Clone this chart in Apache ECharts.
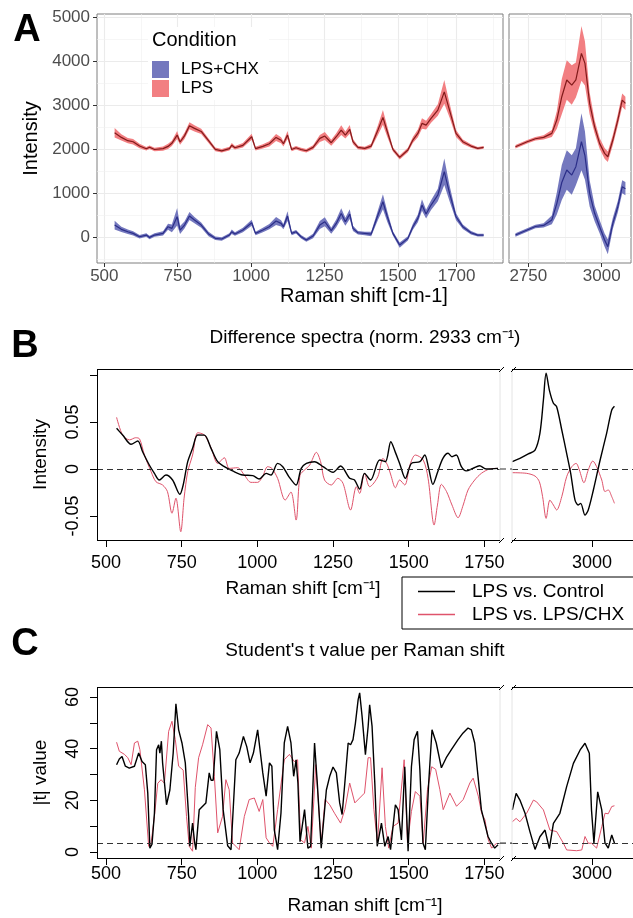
<!DOCTYPE html>
<html>
<head>
<meta charset="utf-8">
<script src="https://cdn.jsdelivr.net/npm/echarts@6/dist/echarts.min.js"></script>
<style>
html, body { margin: 0; padding: 0; background: #fff; }
#chart { width: 633px; height: 918px; }
</style>
</head>
<body>
<div id="chart"></div>
<script>
// ---- Panel A: mean spectra +/- sd, fingerprint range ----
var shiftA = [535, 558, 580, 598, 620, 643, 654, 671, 700, 717,
    730, 748, 758, 773, 790, 807, 830, 855, 878, 900,
    926, 934, 945, 972, 1002, 1015, 1040, 1062, 1085, 1102,
    1110, 1124, 1138, 1153, 1170, 1188, 1211, 1234, 1251, 1273,
    1290, 1307, 1321, 1336, 1347, 1364, 1387, 1409, 1432, 1449,
    1464, 1483, 1506, 1534, 1551, 1568, 1582, 1596, 1613, 1636,
    1658, 1676, 1698, 1721, 1749, 1772, 1792];
var lpsMean = [2370, 2265, 2190, 2166, 2068, 2007, 2040, 1990, 2010, 2060,
    2130, 2318, 2160, 2300, 2530, 2470, 2400, 2190, 1993, 1960,
    2010, 2085, 2030, 2085, 2280, 2010, 2060, 2120, 2265, 2200,
    2120, 2318, 1990, 2030, 1990, 1962, 2038, 2242, 2295, 2144,
    2280, 2432, 2318, 2447, 2167, 2038, 2015, 2068, 2432, 2720,
    2394, 1992, 1810, 1977, 2205, 2356, 2583, 2545, 2697, 2886,
    3300, 2880, 2356, 2167, 2068, 2015, 2038];
var lpsSd = [110, 70, 60, 60, 50, 40, 40, 40, 50, 60,
    60, 90, 60, 70, 80, 70, 60, 50, 40, 40,
    40, 50, 40, 50, 70, 40, 50, 60, 80, 70,
    60, 90, 40, 40, 40, 40, 50, 80, 90, 70,
    80, 110, 80, 100, 60, 40, 40, 50, 110, 170,
    120, 50, 50, 50, 70, 90, 120, 100, 100, 130,
    270, 160, 80, 50, 40, 30, 30];
var chxMean = [272, 175, 121, 83, 7, 45, -8, 45, 83, 235,
    197, 462, 159, 272, 477, 386, 272, 70, -30, -45,
    45, 121, 68, 159, 325, 83, 159, 235, 363, 310,
    235, 477, 83, 121, 7, -68, 23, 272, 348, 144,
    310, 537, 348, 522, 197, 98, 83, 68, 500, 803,
    462, 83, -182, -30, 235, 424, 727, 522, 727, 955,
    1485, 992, 462, 235, 98, 45, 45];
var chxSd = [100, 60, 50, 50, 40, 40, 40, 40, 50, 70,
    90, 200, 90, 80, 90, 70, 60, 50, 40, 40,
    40, 50, 40, 50, 70, 40, 50, 60, 90, 70,
    60, 110, 40, 40, 40, 40, 50, 90, 100, 70,
    90, 120, 90, 110, 60, 40, 40, 50, 110, 170,
    120, 50, 60, 50, 70, 90, 130, 100, 110, 140,
    300, 180, 80, 50, 40, 30, 30];

// ---- Panel A: high wavenumber range ----
var shiftA2 = [2706, 2746, 2774, 2802, 2830, 2847, 2864, 2881, 2898, 2912, 2931, 2943, 2959, 2976, 2993, 3010, 3021, 3038, 3055, 3070, 3081];
var lpsMean2 = [2053, 2166, 2235, 2265, 2356, 2660, 3190, 3570, 3455, 3570, 4175, 3947, 3038, 2507, 2129, 1902, 1825, 2205, 2660, 3114, 3038];
var lpsSd2 = [40, 40, 40, 50, 80, 200, 400, 450, 450, 400, 620, 500, 250, 150, 120, 120, 120, 120, 130, 150, 150];
var chxMean2 = [45, 159, 240, 265, 390, 760, 1240, 1523, 1409, 1598, 2166, 1850, 993, 539, 235, -68, -220, 311, 689, 1143, 1100];
var chxSd2 = [40, 40, 40, 50, 100, 250, 400, 450, 450, 420, 650, 550, 300, 180, 150, 150, 170, 130, 130, 150, 150];

// ---- Panel B: difference spectra ----
var ctrlShiftB = [535, 555, 583, 605, 621, 643, 660, 676, 698, 720, 744, 755, 770, 786, 803, 825, 847, 869, 891, 918,
    952, 985, 1006, 1029, 1045, 1067, 1084, 1104, 1128, 1145, 1162, 1189, 1217, 1250, 1275, 1305, 1321, 1338, 1354, 1374,
    1404, 1423, 1441, 1456, 1470, 1489, 1509, 1537, 1553, 1566, 1580, 1596, 1613, 1630, 1643, 1657, 1674, 1690, 1712, 1734,
    1756, 1795];
var ctrlDiffB = [0.0433, 0.0362, 0.0263, 0.0298, 0.0184, 0.0043, -0.0046, -0.0117, -0.0064, -0.0117,
    -0.0269, -0.017, 0.0078, 0.022, 0.0362, 0.036, 0.022, 0.0078, 0.0025, -0.002,
    -0.0064, -0.007, -0.0106, -0.0046, -0.0064, 0.006, 0.0025, -0.008, -0.017, 0.0007,
    0.006, 0.0078, 0.0025, -0.0035, 0.0032, -0.0099, -0.0117, -0.0213, -0.0046, -0.0117,
    0.0096, 0.0078, 0.029, 0.0177, 0.006, -0.0099, 0.006, 0.0078, 0.0149, 0.0007,
    -0.0163, -0.0028, 0.0113, 0.0167, 0.0131, 0.0149, 0.0025, -0.002, 0.0007, 0.0035,
    0, 0.0007];
var chxShiftB = [535, 555, 578, 598, 611, 627, 649, 665, 687, 703, 718, 731, 747, 758, 770, 786, 803, 825, 847, 869,
    891, 907, 935, 957, 979, 1001, 1017, 1034, 1048, 1067, 1092, 1111, 1128, 1141, 1156, 1173, 1195, 1209, 1222, 1244,
    1266, 1283, 1308, 1327, 1338, 1354, 1371, 1398, 1415, 1430, 1441, 1456, 1470, 1487, 1504, 1522, 1548, 1564, 1584, 1595,
    1608, 1625, 1643, 1663, 1680, 1696, 1718, 1740, 1767, 1795];
var chxDiffB = [0.055, 0.036, 0.031, 0.0333, 0.032, 0.0149, -0.0028, -0.0135, -0.017, -0.024,
    -0.047, -0.031, -0.0667, -0.031, -0.0028, 0.0149, 0.0386, 0.0362, 0.0227, 0.006,
    0.012, 0.0007, 0.0014, -0.0064, -0.0142, -0.0142, -0.0082, 0.0025, 0.0007, -0.01,
    -0.033, -0.0245, -0.0543, -0.0064, -0.001, 0.0042, 0.0177, 0.0078, -0.0117, -0.017,
    -0.0099, -0.0152, -0.0436, -0.0188, -0.026, -0.0046, -0.0188, -0.0082, 0.0113, 0.0042,
    -0.0064, -0.0199, -0.0117, -0.017, 0.0042, 0.0149, 0.0096, -0.0099, -0.0596, -0.0383,
    -0.0163, -0.024, -0.0383, -0.0518, -0.0383, -0.0223, -0.0117, -0.0046, 0, 0.0007];
var ctrlShiftB2 = [2705, 2733, 2764, 2789, 2807, 2820, 2830, 2842, 2857, 2869, 2888, 2906, 2921, 2937, 2949, 2958, 2974, 2986, 3005, 3030, 3054, 3073, 3083];
var ctrlDiffB2 = [0.0078, 0.0113, 0.016, 0.0202, 0.038, 0.0734, 0.1018, 0.084, 0.0699, 0.0663, 0.0415, 0.0167, -0.0046, -0.033, -0.0383, -0.0365, -0.049, -0.0436, -0.0223, 0.0096, 0.038, 0.0628, 0.0667];
var chxShiftB2 = [2705, 2758, 2789, 2805, 2817, 2830, 2844, 2857, 2869, 2888, 2906, 2925, 2941, 2953, 2970, 2986, 3003, 3017, 3036, 3048, 3060, 3073, 3083];
var chxDiffB2 = [-0.0039, -0.0046, -0.0075, -0.0135, -0.0294, -0.0525, -0.033, -0.0383, -0.0436, -0.0294, -0.0082, 0.0025, 0.006, -0.001, -0.0146, -0.001, 0.0085, 0.0025, -0.0117, -0.024, -0.0223, -0.0294, -0.0365];

// ---- Panel C: |t| values ----
var ctrlShiftC = [535, 544, 553, 564, 577, 594, 608, 619, 630, 638, 645, 652, 660, 667, 674, 678, 683, 687, 700, 711,
    722, 731, 740, 751, 762, 773, 777, 786, 793, 797, 808, 830, 841, 847, 854, 865, 876, 887, 902, 913,
    929, 940, 954, 965, 976, 987, 1001, 1018, 1029, 1040, 1048, 1056, 1067, 1078, 1089, 1100, 1111, 1120, 1128, 1134,
    1141, 1156, 1167, 1176, 1189, 1198, 1211, 1228, 1239, 1250, 1261, 1272, 1280, 1289, 1300, 1308, 1316, 1324, 1333, 1338,
    1346, 1357, 1366, 1371, 1379, 1388, 1396, 1410, 1421, 1432, 1440, 1456, 1465, 1476, 1487, 1498, 1509, 1518, 1529, 1537,
    1547, 1555, 1566, 1577, 1591, 1608, 1624, 1641, 1663, 1679, 1696, 1707, 1718, 1729, 1740, 1751, 1762, 1773, 1784, 1795];
var ctrlTC = [33.8, 36, 37, 33.2, 32.5, 33.2, 38.3, 35, 33.8, 22.8, 1.5, 3, 15, 39.6, 41.5, 38.3, 42.9, 34.5, 18.3, 24,
    38.3, 57.4, 47.3, 42.2, 34.5, 13.8, 2.2, 11.2, 3.5, 0.9, 16.4, 19, 30.6, 27.8, 27.8, 46.7, 39.6, 16.4, 2.4, 0.9,
    35.7, 38.3, 44.7, 40.8, 34.5, 38.3, 47.3, 30.6, 21.6, 34.5, 33.2, 8.6, 0.9, 15, 42.2, 48.6, 42.2, 29.3, 35.7, 26.7,
    4, 16.4, 1.5, 2.2, 42.2, 26.7, 1.5, 24, 29.3, 32.9, 30.6, 19, 14.5, 26.7, 42.2, 41.5, 43.5, 49.9, 59, 61.6,
    52.5, 37.7, 48.6, 57, 48.6, 26.7, 2.2, 11.2, 2.2, 6, 0.9, 18.3, 16.4, 4.7, 33, 0.3, 33, 43.5, 46.7, 31.7,
    3.5, 0.9, 26.7, 47.3, 42.2, 32.6, 36.5, 39.6, 43.5, 46, 48, 47.3, 42.2, 29.3, 16.4, 11.2, 6, 3.5, 1.5, 2.8];
var chxShiftC = [535, 544, 561, 572, 583, 594, 605, 612, 627, 641, 649, 660, 671, 682, 693, 707, 718, 729, 740, 755,
    766, 775, 786, 795, 806, 819, 836, 847, 858, 869, 885, 896, 907, 918, 929, 940, 957, 973, 990, 1006,
    1018, 1029, 1040, 1051, 1067, 1089, 1106, 1122, 1133, 1143, 1156, 1167, 1178, 1193, 1211, 1224, 1239, 1255, 1275, 1289,
    1305, 1322, 1338, 1354, 1366, 1374, 1385, 1397, 1412, 1423, 1434, 1448, 1465, 1485, 1496, 1509, 1522, 1537, 1548, 1562,
    1576, 1589, 1603, 1614, 1636, 1658, 1680, 1702, 1713, 1730, 1741, 1752, 1763, 1774, 1791];
var chxTC = [42.5, 39, 37.8, 36.5, 33.8, 42.2, 42.9, 39.6, 24.1, 2.2, 3.5, 13.8, 26.6, 28, 26.6, 46.7, 50.6, 43.5, 33.2, 31.7,
    13.8, 2.2, 0.3, 25, 36.5, 41.5, 49.3, 48, 29.3, 7.4, 13.8, 28, 24.1, 3.5, 2.2, 0.9, 13.8, 20.3, 20.9, 15.7,
    20.3, 5.5, 3.5, 2.2, 16.4, 35.7, 37.8, 35, 35.7, 4.7, 3.5, 9.9, 1.5, 33.8, 3.5, 20.3, 18.3, 15, 11.2, 16.4,
    26.7, 19, 20.9, 22.8, 36.5, 36.5, 16.4, 3.5, 32.6, 9.9, 1.5, 9.9, 11.2, 35.7, 3.5, 15.7, 23.4, 21.6, 3.5, 24.1,
    33, 32, 24.1, 16.4, 22.8, 17.7, 20.3, 26.7, 28.6, 21.6, 15, 12.4, 4.7, 1.5, 3.5];
var ctrlShiftC2 = [2705, 2719, 2733, 2752, 2770, 2789, 2807, 2826, 2842, 2857, 2881, 2906, 2931, 2956, 2974, 2990, 2998, 3007, 3021, 3036, 3048, 3060, 3073, 3083];
var ctrlTC2 = [16.3, 22.7, 20.1, 15, 7.9, 1, 5.9, 8.5, 1.3, 11.1, 15, 25.3, 34.3, 39.5, 42.1, 38.2, 16.3, 3.5, 23.3, 16.3, 3.5, 1.5, 6.6, 3.5];
var chxShiftC2 = [2705, 2719, 2733, 2758, 2783, 2795, 2820, 2844, 2869, 2894, 2906, 2943, 2962, 2974, 2986, 2998, 3017, 3036, 3048, 3060, 3073, 3083];
var chxTC2 = [11.7, 13, 11.7, 15, 20.1, 19.4, 16.3, 8.5, 7.9, 3.4, 0.8, 0.5, 0.8, 6, 3.4, 3.4, 1.5, 9.8, 15, 14.8, 17.6, 17.9];
var tCritical = 3.4;

// axis breaks / ticks
var ticksA = [500, 750, 1000, 1250, 1500, 1700];
var minorA = [625, 875, 1125, 1375, 1600, 1825];
var ticksA2 = [2750, 3000];
var minorA2 = [2875];
var ticksYA = [0, 1000, 2000, 3000, 4000, 5000];
var minorYA = [-500, 500, 1500, 2500, 3500, 4500];
var ticksBC = [500, 750, 1000, 1250, 1500, 1750];
var ticksBC2 = [3000];

var FONT = 'Liberation Sans';
var RED = '#DF536B';

function pairs(xs, ys) {
    return xs.map(function (x, i) { return [x, ys[i]]; });
}
function plain(v) { return String(v); }

function gridLines(xMajor, xMinor) {
    var d = [];
    xMajor.forEach(function (v) { d.push({ xAxis: v, lineStyle: { color: '#ebebeb', width: 1.1 } }); });
    xMinor.forEach(function (v) { d.push({ xAxis: v, lineStyle: { color: '#f0f0f0', width: 0.6 } }); });
    ticksYA.forEach(function (v) { d.push({ yAxis: v, lineStyle: { color: '#ebebeb', width: 1.1 } }); });
    minorYA.forEach(function (v) { d.push({ yAxis: v, lineStyle: { color: '#f0f0f0', width: 0.6 } }); });
    return d;
}

// ribbon (mean +/- sd) as one polygon, then the mean line on top
function ribbon(name, xs, mean, sd, gi, fill, line, grid) {
    var rows = xs.map(function (x, i) { return [x, mean[i] - sd[i], mean[i] + sd[i]]; });
    var band = {
        type: 'custom', name: name, xAxisIndex: gi, yAxisIndex: gi, silent: true, z: 2,
        itemStyle: { color: fill }, encode: { x: 0, y: [1, 2] }, data: rows,
        renderItem: function (params, api) {
            if (params.dataIndex !== 0) return null;
            var up = rows.map(function (r) { return api.coord([r[0], r[2]]); });
            var lo = rows.map(function (r) { return api.coord([r[0], r[1]]); }).reverse();
            return { type: 'polygon', shape: { points: up.concat(lo) }, style: { fill: fill } };
        }
    };
    var mid = {
        type: 'line', xAxisIndex: gi, yAxisIndex: gi, symbol: 'none', silent: true, z: 3,
        lineStyle: { color: line, width: 1.2 }, itemStyle: { color: line },
        data: pairs(xs, mean)
    };
    if (grid) {
        mid.markLine = {
            silent: true, symbol: ['none', 'none'], label: { show: false }, z: 1,
            lineStyle: { type: 'solid' }, data: grid
        };
    }
    return [band, mid];
}

function trace(name, xs, ys, gi, color, width, ref, smooth) {
    var s = {
        type: 'line', name: name, xAxisIndex: gi, yAxisIndex: gi, symbol: 'none', silent: true,
        smooth: smooth || false,
        lineStyle: { color: color, width: width }, itemStyle: { color: color },
        data: pairs(xs, ys)
    };
    if (ref != null) {
        s.markLine = {
            silent: true, symbol: ['none', 'none'], label: { show: false },
            lineStyle: { type: [6, 4], color: '#333', width: 1.2 },
            data: [{ yAxis: ref }]
        };
    }
    return s;
}

function xAxisA(gi, min, max, ticks) {
    return {
        gridIndex: gi, type: 'value', min: min, max: max,
        axisLine: { show: false, onZero: false }, splitLine: { show: false },
        axisTick: { customValues: ticks, length: 4, lineStyle: { color: '#333', width: 1 } },
        axisLabel: { customValues: ticks, color: '#4d4d4d', fontSize: 17, margin: 5, fontFamily: FONT, formatter: plain }
    };
}

function xAxisBC(gi, min, max, ticks, margin) {
    return {
        gridIndex: gi, type: 'value', min: min, max: max,
        axisLine: { show: false, onZero: false }, splitLine: { show: false },
        axisTick: { customValues: ticks, length: 7, lineStyle: { color: '#000', width: 1 } },
        axisLabel: { customValues: ticks, color: '#000', fontSize: 18, margin: margin, fontFamily: FONT, formatter: plain }
    };
}

function yHidden(gi, min, max) {
    return {
        gridIndex: gi, type: 'value', min: min, max: max,
        axisLine: { show: false, onZero: false }, splitLine: { show: false },
        axisTick: { show: false }, axisLabel: { show: false }
    };
}

function yAxisBC(gi, min, max, ticks, labels, name, fmt) {
    return {
        gridIndex: gi, type: 'value', min: min, max: max,
        axisLine: { show: false, onZero: false }, splitLine: { show: false },
        axisTick: { customValues: ticks, length: 7, lineStyle: { color: '#000', width: 1 } },
        axisLabel: { customValues: labels, rotate: 90, color: '#000', fontSize: 18, margin: 15, fontFamily: FONT, formatter: fmt },
        name: name, nameLocation: 'middle', nameGap: 47,
        nameTextStyle: { fontSize: 19, color: '#000', fontFamily: FONT }
    };
}

function seg(x1, y1, x2, y2, color, dash) {
    return { type: 'line', silent: true, z: 20, shape: { x1: x1, y1: y1, x2: x2, y2: y2 },
        style: { stroke: color || '#000', lineWidth: dash ? 1.2 : 1, lineDash: dash || null } };
}

function frame(top, bottom) {
    return [
        seg(500, top, 500, bottom, '#e4e4e4'),
        seg(512, top, 512, bottom, '#e4e4e4'),
        seg(97.5, top, 97.5, bottom),
        seg(97, top, 500, top), seg(512, top, 645, top),
        seg(97, bottom, 500, bottom), seg(512, bottom, 645, bottom),
        seg(499, top + 2.5, 504, top - 2.5), seg(511, top + 2.5, 516, top - 2.5),
        seg(499, bottom + 2.5, 504, bottom - 2.5), seg(511, bottom + 2.5, 516, bottom - 2.5)
    ];
}

function label(x, y, text, size, weight, color) {
    return { type: 'text', x: x, y: y, silent: true, z: 30,
        style: { text: text, fontSize: size, fontWeight: weight || 'normal', fontFamily: FONT,
            fill: color || '#000', align: 'center', verticalAlign: 'middle' } };
}

var BLUE_FILL = '#7478be', RED_FILL = '#f27f82';
var BLUE_LINE = '#2b2e88', RED_LINE = '#821a1a';

var series = []
    .concat(ribbon('LPS+CHX', shiftA, chxMean, chxSd, 0, BLUE_FILL, BLUE_LINE, gridLines(ticksA, minorA)))
    .concat(ribbon('LPS', shiftA, lpsMean, lpsSd, 0, RED_FILL, RED_LINE))
    .concat(ribbon('LPS+CHX', shiftA2, chxMean2, chxSd2, 1, BLUE_FILL, BLUE_LINE, gridLines(ticksA2, minorA2)))
    .concat(ribbon('LPS', shiftA2, lpsMean2, lpsSd2, 1, RED_FILL, RED_LINE))
    .concat([
        trace('LPS vs. LPS/CHX', chxShiftB, chxDiffB, 2, RED, 1, null, 0.3),
        trace('LPS vs. Control', ctrlShiftB, ctrlDiffB, 2, '#000', 1.4, 0, 0.3),
        trace('LPS vs. LPS/CHX', chxShiftB2, chxDiffB2, 3, RED, 1, null, 0.3),
        trace('LPS vs. Control', ctrlShiftB2, ctrlDiffB2, 3, '#000', 1.4, 0, 0.3),
        trace('LPS vs. LPS/CHX', chxShiftC, chxTC, 4, RED, 1),
        trace('LPS vs. Control', ctrlShiftC, ctrlTC, 4, '#000', 1.4, tCritical),
        trace('LPS vs. LPS/CHX', chxShiftC2, chxTC2, 5, RED, 1),
        trace('LPS vs. Control', ctrlShiftC2, ctrlTC2, 5, '#000', 1.4, tCritical)
    ]);

function g(l, t, w, h, border) {
    return { left: l, top: t, width: w, height: h, show: !!border, containLabel: false, outerBoundsMode: 'none',
        borderColor: '#7f7f7f', borderWidth: 1, backgroundColor: 'transparent' };
}

var graphics = [
    label(27, 31, 'A', 38, 'bold'),
    label(25, 347, 'B', 38, 'bold'),
    label(25, 645, 'C', 38, 'bold'),
    { type: 'text', x: 152, y: 40, silent: true, z: 30,
      style: { text: 'Condition', fontSize: 20, fontFamily: FONT, fill: '#000', align: 'left', verticalAlign: 'middle' } },
    label(364, 296, 'Raman shift [cm-1]', 20),
    label(365, 338, 'Difference spectra (norm. 2933 cm\u207B\u00B9)', 19),
    label(303, 589, 'Raman shift [cm\u207B\u00B9]', 19),
    label(365, 651, "Student's t value per Raman shift", 19),
    label(365, 906, 'Raman shift [cm\u207B\u00B9]', 19)
].concat(frame(369.5, 540.5)).concat(frame(687.5, 858.5));

var option = {
    animation: false,
    backgroundColor: '#fff',
    textStyle: { fontFamily: FONT },
    grid: [
        g(97, 14, 406, 249, true),
        g(509, 14, 122, 249, true),
        g(97, 369, 403, 171),
        g(512, 369, 130, 171),
        g(97, 687, 403, 171),
        g(512, 687, 130, 171)
    ],
    xAxis: [
        xAxisA(0, 475, 1858, ticksA),
        xAxisA(1, 2684, 3100, ticksA2),
        xAxisBC(2, 470.3, 1801.6, ticksBC, 14),
        xAxisBC(3, 2703.7, 3185, ticksBC2, 14),
        xAxisBC(4, 470.3, 1801.6, ticksBC, 7),
        xAxisBC(5, 2703.7, 3185, ticksBC2, 7)
    ],
    yAxis: [
        {
            gridIndex: 0, type: 'value', min: -590, max: 5070,
            axisLine: { show: false, onZero: false }, splitLine: { show: false },
            axisTick: { customValues: ticksYA, length: 4, lineStyle: { color: '#333' } },
            axisLabel: { customValues: ticksYA, color: '#4d4d4d', fontSize: 17, margin: 7, fontFamily: FONT, formatter: plain },
            name: 'Intensity', nameLocation: 'middle', nameGap: 48,
            nameTextStyle: { fontSize: 20, color: '#000', fontFamily: FONT }
        },
        yHidden(1, -590, 5070),
        yAxisBC(2, -0.0755, 0.1064, [-0.05, 0, 0.05, 0.1], [-0.05, 0, 0.05], 'Intensity',
            function (v) { return Math.abs(v) < 1e-9 ? '0' : v.toFixed(2); }),
        yHidden(3, -0.0755, 0.1064),
        yAxisBC(4, -2.32, 63.87, [0, 10, 20, 30, 40, 50, 60], [0, 20, 40, 60], '|t| value',
            function (v) { return String(Math.round(v)); }),
        yHidden(5, -2.32, 63.87)
    ],
    legend: [
        {
            left: 148, top: 27, orient: 'vertical', backgroundColor: '#fff',
            padding: [34, 10, 3, 4], itemWidth: 17, itemHeight: 17, itemGap: 2, selectedMode: false,
            textStyle: { fontSize: 17, color: '#000', fontFamily: FONT, padding: [0, 0, 0, 7] },
            data: [
                { name: 'LPS+CHX', icon: 'rect', itemStyle: { color: BLUE_FILL } },
                { name: 'LPS', icon: 'rect', itemStyle: { color: RED_FILL } }
            ]
        },
        {
            left: 402, top: 577, orient: 'vertical', borderColor: '#000', borderWidth: 1,
            padding: [5, 20, 5, 16], itemWidth: 37, itemHeight: 1.3, itemGap: 4, selectedMode: false,
            textStyle: { fontSize: 19, color: '#000', fontFamily: FONT, padding: [0, 0, 0, 12] },
            data: [
                { name: 'LPS vs. Control', icon: 'rect', itemStyle: { color: '#000' } },
                { name: 'LPS vs. LPS/CHX', icon: 'rect', itemStyle: { color: RED } }
            ]
        }
    ],
    graphic: graphics,
    series: series
};

var myChart = echarts.init(document.getElementById('chart'), null, { renderer: 'canvas' });
myChart.setOption(option);

// dashed reference lines continue across the axis break
var y0 = myChart.convertToPixel({ gridIndex: 2 }, [1000, 0])[1];
var yt = myChart.convertToPixel({ gridIndex: 4 }, [1000, tCritical])[1];
myChart.setOption({
    graphic: graphics.concat([
        seg(500, y0, 512, y0, '#333', [6, 4]),
        seg(500, yt, 512, yt, '#333', [6, 4])
    ])
});
</script>
</body>
</html>
